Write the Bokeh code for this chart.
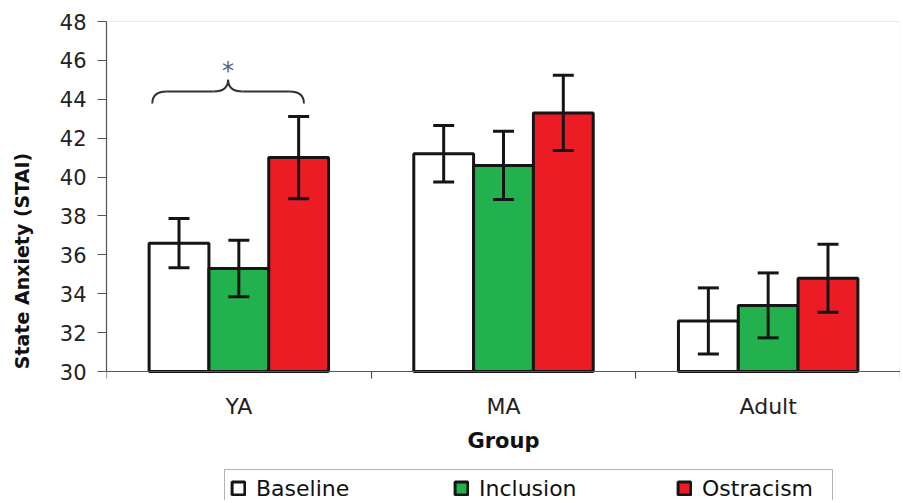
from bokeh.plotting import figure
from bokeh.models import (ColumnDataSource, FixedTicker, Whisker, TeeHead, Legend, LegendItem,
                          Range1d, BoxAnnotation)
from bokeh.core.properties import value
from bokeh.embed import file_html
from bokeh.resources import INLINE

groups = ["YA", "MA", "Adult"]
conditions = ["Baseline", "Inclusion", "Ostracism"]
colors = ["#FFFFFF", "#23B14D", "#EC1C24"]
means = {
    "Baseline":  [36.6, 41.2, 32.6],
    "Inclusion": [35.3, 40.6, 33.4],
    "Ostracism": [41.0, 43.3, 34.8],
}
errors = {
    "Baseline":  [1.27, 1.45, 1.70],
    "Inclusion": [1.45, 1.75, 1.67],
    "Ostracism": [2.12, 1.93, 1.75],
}
y_ticks = list(range(30, 49, 2))
star_label = "*"

FONT = "DejaVu Sans"
Y_MIN, Y_MAX = 30, 48
FIG_H, TOP = 500, 21
PX_PER_UNIT = 350 / (Y_MAX - Y_MIN)
# frame runs to the bottom of the figure, so the legend can sit inside it
y_lo = Y_MAX - (FIG_H - TOP) / PX_PER_UNIT
bar_w = 0.226
offsets = [-bar_w, 0.0, bar_w]

p = figure(width=900, height=FIG_H, output_backend="svg", toolbar_location=None,
           x_range=Range1d(0, 3), y_range=Range1d(y_lo, Y_MAX),
           min_border_left=106, min_border_right=0, min_border_top=TOP, min_border_bottom=0)
p.grid.visible = False
p.outline_line_color = None
p.background_fill_color = "white"
p.border_fill_color = "white"

renderers = []
for ci, cond in enumerate(conditions):
    xs = [gi + 0.5 + offsets[ci] for gi in range(len(groups))]
    ys = means[cond]
    es = errors[cond]
    src = ColumnDataSource(dict(x=xs, top=ys,
                                upper=[m + e for m, e in zip(ys, es)],
                                lower=[m - e for m, e in zip(ys, es)]))
    r = p.vbar(x="x", top="top", bottom=Y_MIN, width=bar_w, source=src,
               fill_color=colors[ci], line_color="#151515", line_width=3)
    renderers.append(r)
    w = Whisker(base="x", upper="upper", lower="lower", source=src, level="overlay",
                line_color="#151515", line_width=3,
                upper_head=TeeHead(size=21, line_color="#151515", line_width=3),
                lower_head=TeeHead(size=21, line_color="#151515", line_width=3))
    p.add_layout(w)

# plot-area border (top and right edges)
p.add_layout(BoxAnnotation(left=0, right=3, bottom=Y_MIN, top=Y_MAX, fill_alpha=0,
                           line_color="#6a6a6a", line_width=1.2, level="underlay"))

# brace over YA: from baseline bar's left edge to ostracism bar centre
xl = 0.5 + offsets[0] - bar_w / 2 + 0.012
xr = 0.5 + offsets[2] + 0.02
xm = (xl + xr) / 2
y0, y1, y2 = 43.78, 44.4, 45.0
dx = 0.055
bc = "#333333"
p.quadratic(x0=[xl, xm - dx, xm, xr - dx], y0=[y0, y1, y2, y1],
            x1=[xl + dx, xm, xm + dx, xr], y1=[y1, y2, y1, y0],
            cx=[xl, xm, xm, xr], cy=[y1, y1, y1, y1],
            line_color=bc, line_width=2)
p.segment(x0=[xl + dx, xm + dx], y0=[y1, y1], x1=[xm - dx, xr - dx], y1=[y1, y1],
          line_color=bc, line_width=2)
p.text(x=[xm], y=[45.45], text=[star_label], text_align="center", text_baseline="middle",
       text_font=value(FONT), text_font_size="24px", text_color="#556077")

# y axis
ya = p.yaxis[0]
ya.bounds = (Y_MIN, Y_MAX)
ya.ticker = FixedTicker(ticks=y_ticks, minor_ticks=[])
ya.axis_line_color = "#555555"
ya.axis_line_width = 1.2
ya.major_tick_line_color = "#555555"
ya.major_tick_line_width = 1.2
ya.major_tick_in = 0
ya.major_tick_out = 9
ya.major_label_standoff = 11
ya.major_label_text_font = FONT
ya.major_label_text_font_size = "21px"
ya.major_label_text_color = "#222222"
ya.axis_label = "State Anxiety (STAI)"
ya.axis_label_text_font = FONT
ya.axis_label_text_font_style = "bold"
ya.axis_label_text_font_size = "19px"
ya.axis_label_text_color = "#111111"
ya.axis_label_standoff = 24

# x axis, pinned at y = 30
xa = p.xaxis[0]
xa.fixed_location = Y_MIN
xa.ticker = FixedTicker(ticks=[i + 0.5 for i in range(len(groups))],
                        minor_ticks=list(range(len(groups) + 1)))
xa.major_label_overrides = {i + 0.5: g for i, g in enumerate(groups)}
xa.axis_line_color = "#555555"
xa.axis_line_width = 1.2
xa.major_tick_line_color = None
xa.major_tick_out = 0
xa.major_tick_in = 0
xa.minor_tick_line_color = "#555555"
xa.minor_tick_line_width = 1.2
xa.minor_tick_in = 0
xa.minor_tick_out = 7
xa.major_label_standoff = 15
xa.major_label_text_font = FONT
xa.major_label_text_font_size = "22px"
xa.major_label_text_color = "#222222"
xa.axis_label = "Group"
xa.axis_label_text_font = FONT
xa.axis_label_text_font_style = "bold"
xa.axis_label_text_font_size = "21px"
xa.axis_label_text_color = "#111111"
xa.axis_label_standoff = 7

legend = Legend(items=[LegendItem(label=c, renderers=[r]) for c, r in zip(conditions, renderers)],
                orientation="horizontal", location=(118, -7),
                glyph_width=16, glyph_height=16, label_standoff=10, label_height=26,
                label_width=125, spacing=72, padding=5, margin=0,
                label_text_font=FONT, label_text_font_size="22px", label_text_color="#111111",
                border_line_color="#666666", border_line_width=1.5,
                background_fill_color="white", background_fill_alpha=1.0)
p.add_layout(legend, "center")

open("out.html", "w").write(file_html(p, INLINE))
